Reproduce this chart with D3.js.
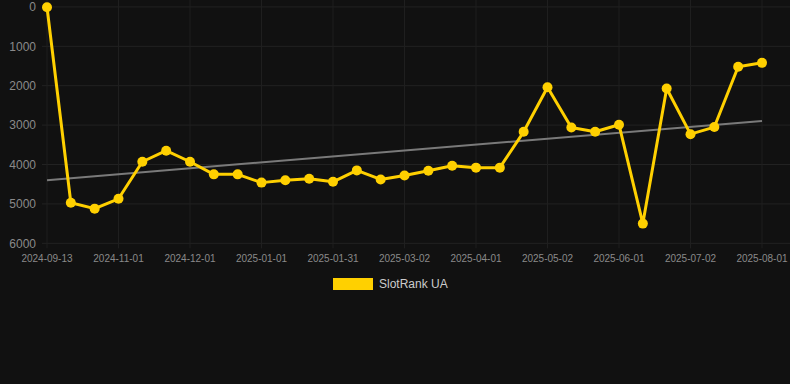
<!DOCTYPE html>
<html><head><meta charset="utf-8">
<script src="https://cdn.jsdelivr.net/npm/d3@7"></script>
<style>html,body{margin:0;padding:0;background:#111111;}svg{display:block;}</style>
</head><body>
<script>
const seriesName = "SlotRank UA";
const tickLabels = ["2024-09-13","2024-11-01","2024-12-01","2025-01-01","2025-01-31","2025-03-02","2025-04-01","2025-05-02","2025-06-01","2025-07-02","2025-08-01"];
const rankValues = [10,4970,5120,4870,3930,3650,3930,4250,4250,4460,4400,4360,4440,4150,4380,4280,4160,4030,4080,4080,3170,2040,3060,3170,2990,5500,2070,3230,3050,1520,1420];
const yTicks = [0,1000,2000,3000,4000,5000,6000];

const W = 790, H = 384;
const svg = d3.select("body").append("svg").attr("width", W).attr("height", H);
svg.append("rect").attr("width", W).attr("height", H).attr("fill", "#111111");

const idx = rankValues.map((d,i)=>i);
const x = d3.scalePoint().domain(idx).range([47, 762]);
const y = d3.scaleLinear().domain([0, 6000]).range([6.9, 243.3]);

// grid
const g = svg.append("g");
g.selectAll("line.h").data(yTicks).join("line")
  .attr("x1", 42).attr("x2", W).attr("y1", d=>y(d)).attr("y2", d=>y(d))
  .attr("stroke", "#222222").attr("stroke-width", 1);
const tickIdx = tickLabels.map((d,i)=>i*3);
g.selectAll("line.v").data(tickIdx).join("line")
  .attr("x1", d=>x(d)).attr("x2", d=>x(d)).attr("y1", 0).attr("y2", y(6000)+5)
  .attr("stroke", "#1f1f1f").attr("stroke-width", 1);

// y axis labels
svg.append("g").selectAll("text").data(yTicks).join("text")
  .attr("x", 36).attr("y", d=>y(d)).attr("dy", "0.35em")
  .attr("text-anchor", "end").attr("fill", "#8a8a8a")
  .attr("font-family", "Liberation Sans, Arial, sans-serif").attr("font-size", 12)
  .text(d=>d);

// x axis labels
svg.append("g").selectAll("text").data(tickLabels).join("text")
  .attr("x", (d,i)=>x(i*3)).attr("y", 262)
  .attr("text-anchor", "middle").attr("fill", "#8a8a8a")
  .attr("font-family", "Liberation Sans, Arial, sans-serif").attr("font-size", 10)
  .text(d=>d);

// trend line (least squares)
const n = rankValues.length;
const mx = d3.mean(idx), my = d3.mean(rankValues);
const slope = d3.sum(idx, i=>(i-mx)*(rankValues[i]-my)) / d3.sum(idx, i=>(i-mx)*(i-mx));
const icpt = my - slope*mx;
svg.append("line")
  .attr("x1", x(0)).attr("y1", y(icpt))
  .attr("x2", x(n-1)).attr("y2", y(icpt + slope*(n-1)))
  .attr("stroke", "#7a7a7a").attr("stroke-width", 2);

// series
const line = d3.line().x((d,i)=>x(i)).y(d=>y(d));
svg.append("path").datum(rankValues).attr("d", line)
  .attr("fill", "none").attr("stroke", "#FFD000").attr("stroke-width", 3)
  .attr("stroke-linejoin", "round");
svg.append("g").selectAll("circle").data(rankValues).join("circle")
  .attr("cx", (d,i)=>x(i)).attr("cy", d=>y(d)).attr("r", 5)
  .attr("fill", "#FFD000");

// legend
svg.append("rect").attr("x", 333).attr("y", 278).attr("width", 40).attr("height", 12).attr("fill", "#FFD000");
svg.append("text").attr("x", 379).attr("y", 284).attr("dy", "0.35em")
  .attr("fill", "#cccccc").attr("font-family", "Liberation Sans, Arial, sans-serif").attr("font-size", 12)
  .text(seriesName);
</script>
</body></html>
